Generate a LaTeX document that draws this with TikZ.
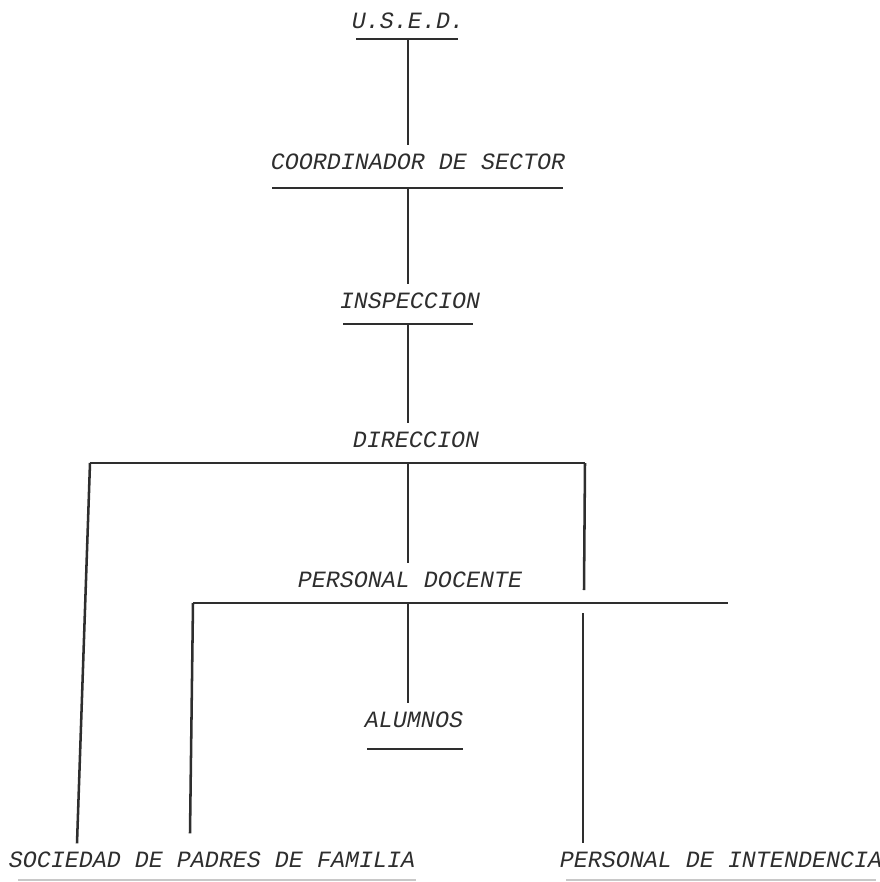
\documentclass[tikz,border=0pt]{standalone}
\usepackage{fontspec}
\usetikzlibrary{calc}
\setmonofont{Liberation Mono}
\definecolor{ink}{HTML}{2E2E2E}
\definecolor{faint}{HTML}{C8C8C8}
\tikzset{
  org/.style={font=\ttfamily\itshape\fontsize{16.6}{18}\selectfont,text=ink,inner xsep=0pt,inner ysep=6pt},
  link/.style={draw=ink,line width=1.8pt},
  rule/.style={draw=ink,line width=2pt},
}
\begin{document}
\begin{tikzpicture}[x=0.025cm,y=-0.025cm]
        \useasboundingbox (0,0) rectangle (880,882);
        %% levels
        \node[org] (used) at (408,21) {U.S.E.D.};
        \node[org] (coord) at (418,162) {COORDINADOR DE SECTOR};
        \node[org] (insp) at (410,301) {INSPECCION};
        \node[org] (dir) at (416,440) {DIRECCION};
        \node[org] (doc) at (410,580) {PERSONAL DOCENTE};
        \node[org] (alum) at (414,720) {ALUMNOS};
        \node[org] (soc) at (212,860) {SOCIEDAD DE PADRES DE FAMILIA};
        \node[org] (intend) at (721,860) {PERSONAL DE INTENDENCIA};
        %% underlines
        \coordinate (usedbar) at (408,39);
        \coordinate (coordbar) at (408,188);
        \coordinate (inspbar) at (408,324);
        \draw[rule] (356,39) -- (458,39);
        \draw[rule] (272,188) -- (563,188);
        \draw[rule] (343,324) -- (473,324);
        \draw[rule] (367,749) -- (463,749);
        \draw[faint,line width=1pt] (18,880) -- (416,880);
        \draw[faint,line width=1pt] (566,880) -- (876,880);
        %% bars
        \coordinate (dl) at (90,463);
        \coordinate (dm) at (408,463);
        \coordinate (dr) at (585,463);
        \coordinate (pl) at (193,603);
        \coordinate (pm) at (408,603);
        \coordinate (pr) at (728,603);
        \draw[rule] (dl) -- (dr);
        \draw[rule] (pl) -- (pr);
        %% connectors
        \draw[link] (usedbar) -- (usedbar |- coord.north);
        \draw[link] (coordbar) -- (coordbar |- insp.north);
        \draw[link] (inspbar) -- (inspbar |- dir.north);
        \draw[link] (dm) -- (dm |- doc.north);
        \draw[link] (pm) -- (pm |- alum.north);
        \draw[link] (dl) -- ($(soc.north)+(-135,0)$);
        \draw[link] (pl) -- ($(soc.north)+(-22,-10)$);
        \draw[link] (dr) -- ($(pr -| dr)+(-1,-13)$);
        \draw[link] ($(pr -| dr)+(-2,10)$) -- ($(intend.north)+(-138,0)$);
\end{tikzpicture}
\end{document}
